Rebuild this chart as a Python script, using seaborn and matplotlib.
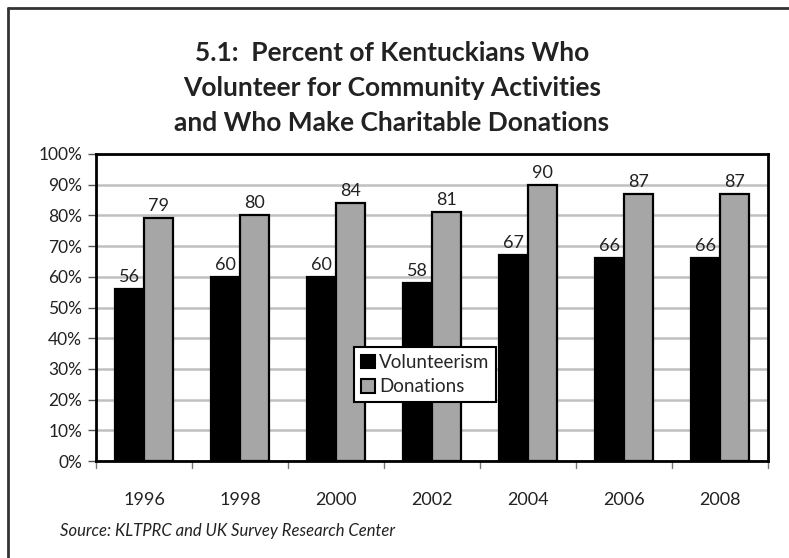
import matplotlib
matplotlib.use("Agg")
import matplotlib.pyplot as plt
import seaborn as sns
import pandas as pd
from matplotlib.ticker import PercentFormatter, MultipleLocator
from matplotlib.lines import Line2D

years = ["1996", "1998", "2000", "2002", "2004", "2006", "2008"]
volunteerism = [56, 60, 60, 58, 67, 66, 66]
donations = [79, 80, 84, 81, 90, 87, 87]
series_names = ["Volunteerism", "Donations"]

df = pd.DataFrame({
    "year": years * 2,
    "value": volunteerism + donations,
    "series": [series_names[0]] * len(years) + [series_names[1]] * len(years),
})

sns.set_theme(style="white")
plt.rcParams["font.family"] = ["Lato", "DejaVu Sans"]

fig = plt.figure(figsize=(7.89, 5.58), dpi=100)
ax = fig.add_axes([96 / 789, 1 - 461 / 558, 672 / 789, 307 / 558])

sns.barplot(data=df, x="year", y="value", hue="series", order=years,
            hue_order=series_names, palette=["#000000", "#A6A6A6"],
            width=0.6, edgecolor="black", linewidth=1.6, saturation=1,
            ax=ax, legend=False, zorder=3)

for cont in ax.containers:
    ax.bar_label(cont, fmt="%d", padding=3, fontsize=13, color="#222222")

ax.set_ylim(0, 100)
ax.set_xlim(-0.5, len(years) - 0.5)
ax.yaxis.set_major_locator(MultipleLocator(10))
ax.yaxis.set_major_formatter(PercentFormatter(decimals=0))
ax.grid(axis="y", color="#C0C0C0", linewidth=1.8, zorder=0)
ax.set_axisbelow(True)
for s in ax.spines.values():
    s.set_color("black")
    s.set_linewidth(2)

ax.tick_params(axis="y", left=True, length=6, width=1, color="#555555",
               labelsize=12.5, labelcolor="#222222", pad=4)
ax.tick_params(axis="x", bottom=False, labelsize=13, labelcolor="#222222", pad=16)
# category-boundary ticks below the axis
for b in [i - 0.5 for i in range(len(years) + 1)]:
    ax.add_line(Line2D([b, b], [0, -2.2], color="#777777", linewidth=1,
                       clip_on=False, zorder=1))
ax.set_xlabel("")
ax.set_ylabel("")

handles = [plt.Rectangle((0, 0), 1, 1, facecolor=c, edgecolor="black", linewidth=1.5)
           for c in ["#000000", "#A6A6A6"]]
leg = ax.legend(handles, series_names, loc="lower left",
                bbox_to_anchor=(0.384, 0.192), fontsize=13.5, frameon=True,
                fancybox=False, edgecolor="black", framealpha=1,
                handlelength=0.75, handleheight=0.75, handletextpad=0.25,
                borderpad=0.35, labelspacing=0.4, borderaxespad=0)
leg.get_frame().set_linewidth(1.5)
leg.set_zorder(5)

fig.text(392 / 789, 1 - 88 / 558,
         "5.1:  Percent of Kentuckians Who\nVolunteer for Community Activities\nand Who Make Charitable Donations",
         ha="center", va="center", fontsize=19, fontweight="bold",
         color="#222222", linespacing=1.55)

fig.text(60 / 789, 1 - 531 / 558, "Source: KLTPRC and UK Survey Research Center",
         ha="left", va="center", fontsize=12, style="italic", color="#222222")

# outer frame (left and top edges)
fig.add_artist(Line2D([8 / 789, 8 / 789], [0, 1 - 8 / 558], color="#333333",
                      linewidth=2, transform=fig.transFigure))
fig.add_artist(Line2D([8 / 789, 1], [1 - 8 / 558, 1 - 8 / 558], color="#333333",
                      linewidth=2, transform=fig.transFigure))

fig.savefig("out.png", dpi=100)
